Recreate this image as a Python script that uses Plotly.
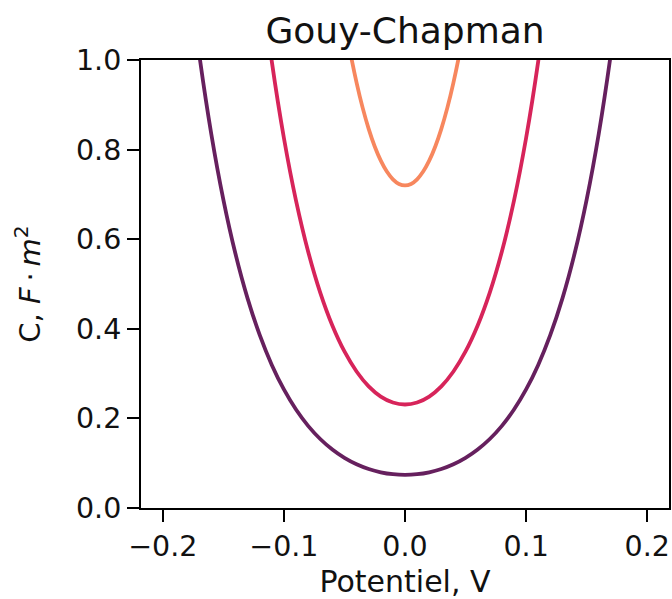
import plotly.graph_objects as go

# Potential (V) and capacitance (F·m²)
purple_x = [-0.18, -0.17, -0.16, -0.15, -0.14, -0.13, -0.12, -0.11, -0.10, -0.09, -0.08, -0.07,
            -0.06, -0.05, -0.04, -0.03, -0.02, -0.01, 0.0, 0.01, 0.02, 0.03, 0.04, 0.05, 0.06,
            0.07, 0.08, 0.09, 0.10, 0.11, 0.12, 0.13, 0.14, 0.15, 0.16, 0.17, 0.18]
purple_y = [1.232, 1.0145, 0.8355, 0.6884, 0.5674, 0.4679, 0.3863, 0.3194, 0.2646, 0.2198, 0.1834,
            0.1540, 0.1305, 0.1119, 0.0976, 0.0870, 0.0797, 0.0754, 0.074, 0.0754, 0.0797, 0.0870,
            0.0976, 0.1119, 0.1305, 0.1540, 0.1834, 0.2198, 0.2646, 0.3194, 0.3863, 0.4679, 0.5674,
            0.6884, 0.8355, 1.0145, 1.232]

red_x = [-0.12, -0.11, -0.10, -0.09, -0.08, -0.07, -0.06, -0.05, -0.04, -0.03, -0.02, -0.01, 0.0,
         0.01, 0.02, 0.03, 0.04, 0.05, 0.06, 0.07, 0.08, 0.09, 0.10, 0.11, 0.12]
red_y = [1.2059, 0.9969, 0.8259, 0.6862, 0.5726, 0.4808, 0.4074, 0.3494, 0.3047, 0.2715, 0.2487,
         0.2354, 0.231, 0.2354, 0.2487, 0.2715, 0.3047, 0.3494, 0.4074, 0.4808, 0.5726, 0.6862,
         0.8259, 0.9969, 1.2059]

orange_x = [-0.05, -0.045, -0.04, -0.035, -0.03, -0.025, -0.02, -0.015, -0.01, -0.005, 0.0,
            0.005, 0.01, 0.015, 0.02, 0.025, 0.03, 0.035, 0.04, 0.045, 0.05]
orange_y = [1.0890, 1.0145, 0.9496, 0.8937, 0.8464, 0.8070, 0.7753, 0.7510, 0.7337, 0.7234, 0.72,
            0.7234, 0.7337, 0.7510, 0.7753, 0.8070, 0.8464, 0.8937, 0.9496, 1.0145, 1.0890]

x_tick_vals = [-0.2, -0.1, 0.0, 0.1, 0.2]
x_tick_text = ["\u22120.2", "\u22120.1", "0.0", "0.1", "0.2"]
y_tick_vals = [0.0, 0.2, 0.4, 0.6, 0.8, 1.0]
y_tick_text = ["0.0", "0.2", "0.4", "0.6", "0.8", "1.0"]

FONT = "DejaVu Sans"
INK = "#111111"

fig = go.Figure()
for xs, ys, col in [(purple_x, purple_y, "#66205e"),
                    (red_x, red_y, "#d7245a"),
                    (orange_x, orange_y, "#f7875e")]:
    fig.add_trace(go.Scatter(x=xs, y=ys, mode="lines",
                             line=dict(color=col, width=3.8, shape="spline"),
                             showlegend=False, hoverinfo="skip"))

axis_common = dict(showline=True, linecolor="black", linewidth=2, mirror=True,
                   ticks="outside", ticklen=12, tickwidth=2, tickcolor="black",
                   showgrid=False, zeroline=False, automargin=False,
                   tickfont=dict(family=FONT, size=28.5, color=INK))

fig.update_xaxes(range=[-0.218, 0.218], tickvals=x_tick_vals, ticktext=x_tick_text,
                 title=dict(text="Potentiel, V", font=dict(family=FONT, size=30, color=INK),
                            standoff=13),
                 **axis_common)
fig.update_yaxes(range=[0, 1], tickvals=y_tick_vals, ticktext=y_tick_text,
                 title=dict(text="C, <i>F</i>\u2009\u00b7\u2009<i>m</i><sup>2</sup>",
                            font=dict(family=FONT, size=29, color=INK), standoff=27),
                 **axis_common)

fig.update_layout(
    width=672, height=599,
    margin=dict(l=141, r=3, t=60, b=91, autoexpand=False),
    plot_bgcolor="white", paper_bgcolor="white",
    title=dict(text="Gouy-Chapman", x=0.5, xref="paper", y=1 - 30 / 599, yref="container",
               xanchor="center", yanchor="middle",
               font=dict(family=FONT, size=36, color=INK)),
)

fig.write_html("out.html")
